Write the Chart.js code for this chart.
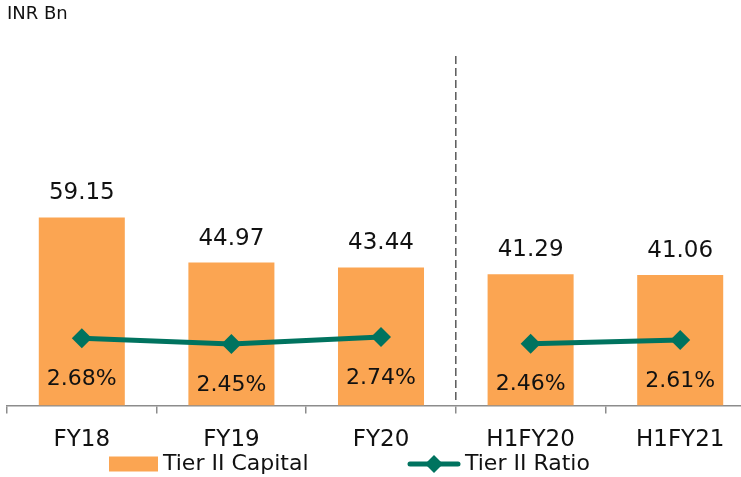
<!DOCTYPE html>
<html>
<head>
<meta charset="utf-8">
<script src="https://cdn.jsdelivr.net/npm/chart.js"></script>
<style>
  html, body { margin: 0; padding: 0; overflow: hidden; background: #fff; }
  #wrap { width: 755px; height: 477px; }
</style>
</head>
<body>
<div id="wrap"><canvas id="tierChart"></canvas></div>
<script>
    const periods = ['FY18', 'FY19', 'FY20', 'H1FY20', 'H1FY21'];
    const tierCapital = [59.15, 44.97, 43.44, 41.29, 41.06];
    const tierRatio = [2.68, 2.45, 2.74, 2.46, 2.61];

    const barColor = '#FBA552';
    const lineColor = '#00735F';
    const font = "'DejaVu Sans', sans-serif";

    // value labels, dashed divider, unit text and legend
    const extras = {
        id: 'extras',
        afterDatasetsDraw(chart) {
            const c = chart.ctx;
            const bars = chart.getDatasetMeta(1).data;
            const pts = chart.getDatasetMeta(0).data;
            c.save();
            c.fillStyle = '#111';
            c.textAlign = 'center';
            c.textBaseline = 'middle';
            c.font = '23px ' + font;
            bars.forEach((b, i) => c.fillText(tierCapital[i].toFixed(2), b.x, b.y - 24));
            c.font = '22px ' + font;
            pts.forEach((p, i) => c.fillText(tierRatio[i].toFixed(2) + '%', p.x, p.y + 41));

            // divider between full-year and half-year figures
            const xs = chart.scales.x;
            const xd = (xs.getPixelForValue(2) + xs.getPixelForValue(3)) / 2;
            c.strokeStyle = '#595959';
            c.lineWidth = 1.5;
            c.setLineDash([8, 4]);
            c.beginPath();
            c.moveTo(xd, chart.chartArea.top);
            c.lineTo(xd, chart.chartArea.bottom - 4);
            c.stroke();
            c.setLineDash([]);

            c.textAlign = 'left';
            c.font = '18px ' + font;
            c.fillText('INR Bn', 7, 14);

            // legend
            const ly = 464;
            c.fillStyle = barColor;
            c.fillRect(109, ly - 7.5, 49, 15);
            c.fillStyle = '#111';
            c.font = '22px ' + font;
            c.fillText('Tier II Capital', 163, ly);
            c.strokeStyle = lineColor;
            c.lineWidth = 5;
            c.lineCap = 'round';
            c.beginPath();
            c.moveTo(410, ly);
            c.lineTo(458, ly);
            c.stroke();
            c.fillStyle = lineColor;
            c.beginPath();
            c.moveTo(434, ly - 9);
            c.lineTo(443, ly);
            c.lineTo(434, ly + 9);
            c.lineTo(425, ly);
            c.closePath();
            c.fill();
            c.fillStyle = '#111';
            c.fillText('Tier II Ratio', 465, ly);
            c.restore();
        }
    };

    const ctx = document.getElementById('tierChart').getContext('2d');

    const tierChart = new Chart(ctx, {
        data: {
            labels: periods,
            datasets: [{
                type: 'line',
                label: 'Tier II Ratio',
                data: tierRatio,
                yAxisID: 'y2',
                borderColor: lineColor,
                backgroundColor: lineColor,
                borderWidth: 5,
                pointStyle: 'rectRot',
                pointRadius: 10,
                pointHoverRadius: 10,
                pointBorderWidth: 0,
                segment: {
                    borderColor: s => s.p0DataIndex === 2 ? 'transparent' : undefined
                },
                order: 0
            }, {
                type: 'bar',
                label: 'Tier II Capital',
                data: tierCapital,
                yAxisID: 'y',
                backgroundColor: barColor,
                categoryPercentage: 0.575,
                barPercentage: 1,
                order: 1
            }]
        },
        options: {
            responsive: true,
            maintainAspectRatio: false,
            animation: false,
            layout: {
                autoPadding: false,
                padding: { left: 7, right: 0, top: 56, bottom: 10 }
            },
            plugins: {
                legend: { display: false },
                tooltip: { enabled: false }
            },
            scales: {
                x: {
                    grid: {
                        offset: true,
                        drawOnChartArea: false,
                        drawTicks: true,
                        tickLength: 8,
                        color: '#8C8C8C',
                        lineWidth: 1.5
                    },
                    border: { color: '#8C8C8C', width: 1.5 },
                    ticks: {
                        padding: 13,
                        color: '#111',
                        font: { family: font, size: 23 }
                    }
                },
                y: {
                    display: false,
                    min: 0,
                    max: 110
                },
                y2: {
                    display: false,
                    position: 'right',
                    min: -0.11,
                    max: 14.43
                }
            }
        },
        plugins: [extras]
    });
</script>
</body>
</html>
